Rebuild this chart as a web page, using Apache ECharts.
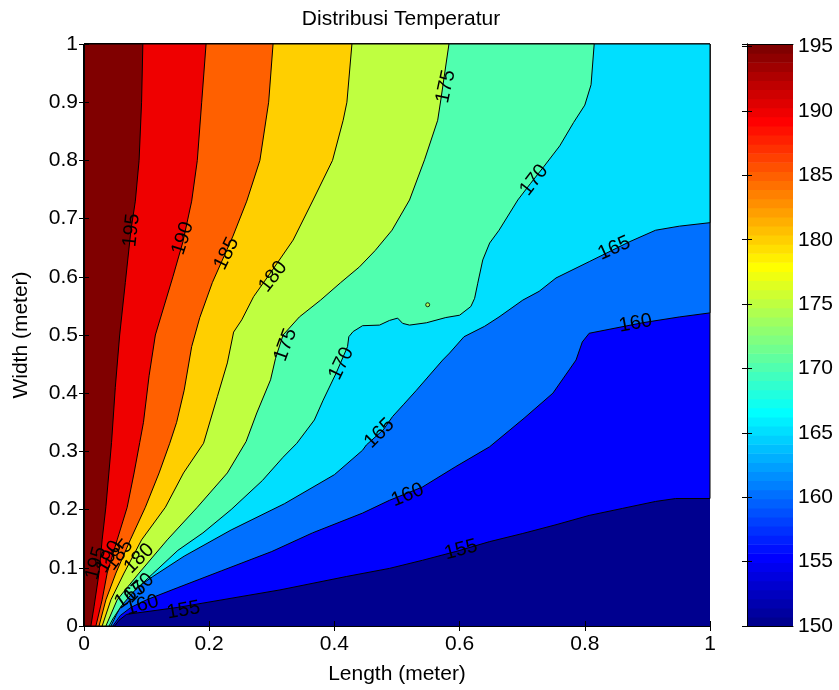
<!DOCTYPE html>
<html>
<head>
<meta charset="utf-8">
<title>Distribusi Temperatur</title>
<script src="https://cdn.jsdelivr.net/npm/echarts@6/dist/echarts.min.js"></script>
<style>
html,body{margin:0;padding:0;background:#fff;}
#chart{width:839px;height:690px;}
</style>
</head>
<body>
<div id="chart"></div>
<script>
// contour levels and colour limits of the colorbar
var levels = [150, 155, 160, 165, 170, 175, 180, 185, 190, 195];
var cLim = [150, 195.2];

// contour lines [length, width], from top/right edge down to the bottom edge
var c195 = [[0.094,1],[0.092,0.9],[0.088,0.8],[0.082,0.73],[0.075,0.68],[0.066,0.59],[0.057,0.5],[0.050,0.41],[0.044,0.315],[0.035,0.205],[0.029,0.148],[0.024,0.091],[0.016,0.033],[0.011,0]];
var c190 = [[0.195,1],[0.188,0.9],[0.181,0.8],[0.172,0.73],[0.158,0.66],[0.142,0.6],[0.128,0.55],[0.114,0.5],[0.104,0.43],[0.095,0.35],[0.089,0.315],[0.080,0.263],[0.069,0.204],[0.053,0.148],[0.037,0.091],[0.029,0.045],[0.019,0]];
var c185 = [[0.302,1],[0.295,0.9],[0.281,0.8],[0.260,0.73],[0.238,0.67],[0.205,0.59],[0.185,0.53],[0.172,0.48],[0.160,0.405],[0.148,0.35],[0.137,0.314],[0.120,0.263],[0.098,0.204],[0.074,0.148],[0.051,0.091],[0.035,0.045],[0.024,0]];
var c180 = [[0.428,1],[0.420,0.9],[0.414,0.869],[0.397,0.8],[0.366,0.732],[0.334,0.663],[0.300,0.61],[0.271,0.566],[0.252,0.526],[0.239,0.505],[0.229,0.452],[0.213,0.394],[0.191,0.314],[0.159,0.263],[0.130,0.204],[0.092,0.148],[0.064,0.091],[0.043,0.045],[0.029,0]];
var c175 = [[0.583,1],[0.570,0.904],[0.565,0.869],[0.544,0.801],[0.520,0.732],[0.492,0.68],[0.465,0.645],[0.440,0.617],[0.410,0.59],[0.378,0.56],[0.344,0.531],[0.318,0.5],[0.306,0.46],[0.298,0.423],[0.276,0.366],[0.259,0.317],[0.229,0.263],[0.181,0.204],[0.133,0.148],[0.088,0.091],[0.053,0.045],[0.035,0]];
var c170 = [[0.815,1],[0.810,0.93],[0.800,0.895],[0.782,0.865],[0.760,0.825],[0.735,0.79],[0.713,0.76],[0.693,0.732],[0.663,0.68],[0.648,0.658],[0.637,0.629],[0.629,0.589],[0.624,0.563],[0.618,0.549],[0.600,0.534],[0.578,0.530],[0.547,0.521],[0.520,0.517],[0.509,0.520],[0.501,0.529],[0.488,0.525],[0.472,0.517],[0.445,0.516],[0.430,0.506],[0.423,0.497],[0.421,0.48],[0.403,0.435],[0.382,0.388],[0.368,0.354],[0.340,0.314],[0.318,0.29],[0.285,0.25],[0.235,0.2],[0.190,0.16],[0.150,0.13],[0.110,0.09],[0.080,0.06],[0.060,0.035],[0.046,0.012],[0.040,0]];
var c165 = [[1,0.693],[0.951,0.687],[0.913,0.68],[0.871,0.66],[0.807,0.626],[0.754,0.598],[0.727,0.575],[0.701,0.56],[0.663,0.531],[0.640,0.515],[0.607,0.497],[0.584,0.469],[0.573,0.457],[0.531,0.405],[0.510,0.38],[0.493,0.36],[0.478,0.337],[0.451,0.311],[0.445,0.302],[0.40,0.26],[0.32,0.21],[0.235,0.165],[0.16,0.12],[0.11,0.085],[0.07,0.055],[0.052,0.02],[0.043,0]];
var c160 = [[1,0.538],[0.951,0.531],[0.892,0.521],[0.807,0.503],[0.796,0.488],[0.786,0.457],[0.775,0.44],[0.749,0.40],[0.703,0.357],[0.648,0.308],[0.594,0.274],[0.541,0.239],[0.488,0.216],[0.445,0.194],[0.365,0.16],[0.30,0.128],[0.22,0.095],[0.15,0.066],[0.10,0.045],[0.075,0.032],[0.058,0.018],[0.046,0]];
var c155 = [[1,0.219],[0.945,0.219],[0.913,0.214],[0.860,0.202],[0.807,0.19],[0.754,0.174],[0.701,0.159],[0.648,0.145],[0.594,0.128],[0.541,0.113],[0.488,0.099],[0.419,0.085],[0.313,0.062],[0.15,0.032],[0.068,0.02],[0.056,0.01],[0.049,0]];
var contours = {155: c155, 160: c160, 165: c165, 170: c170, 175: c175, 180: c180, 185: c185, 190: c190, 195: c195};

// tiny closed 175 contour
var spot175 = [[0.549, 0.552]];

// clabel positions: [length, width, level, angle in degrees]
var contourLabels = [
  [0.076,0.680,195,84],[0.158,0.666,190,72],[0.228,0.640,185,64],[0.302,0.600,180,52],
  [0.578,0.927,175,78],[0.322,0.483,175,70],
  [0.719,0.766,170,52],[0.411,0.451,170,64],
  [0.847,0.649,165,24],[0.472,0.331,165,45],
  [0.881,0.520,160,10],[0.517,0.225,160,22],
  [0.602,0.131,155,15],
  [0.019,0.108,195,75],[0.040,0.119,190,60],[0.056,0.122,185,52],[0.088,0.116,180,45],
  [0.088,0.065,170,45],[0.074,0.053,165,35],[0.093,0.036,160,15],[0.159,0.027,155,10]
];

var fontFam = '"Liberation Sans", Arial, Helvetica, sans-serif';

// MATLAB jet(64)
function jet (k) {
  var i = k + 1, r, g, b
  if (i <= 8) { r = 0; g = 0; b = 0.5 + i * 0.0625 }
  else if (i <= 24) { r = 0; g = (i - 8) * 0.0625; b = 1 }
  else if (i <= 40) { r = (i - 24) * 0.0625; g = 1; b = 1 - (i - 24) * 0.0625 }
  else if (i <= 56) { r = 1; g = 1 - (i - 40) * 0.0625; b = 0 }
  else { r = 1 - (i - 56) * 0.0625; g = 0; b = 0 }
  return 'rgb(' + Math.round(r * 255) + ',' + Math.round(g * 255) + ',' + Math.round(b * 255) + ')'
}
function levelColor (v) {
  var k = Math.floor((v - cLim[0]) / (cLim[1] - cLim[0]) * 64)
  return jet(Math.max(0, Math.min(63, k)))
}

var cmapBins = []
for (var k = 0; k < 64; k++) cmapBins.push(k)

var chart = echarts.init(document.getElementById('chart'))

var tickStyle = {show: true, inside: true, length: 5, lineStyle: {color: '#000', width: 1}}
var lineStyle = {show: true, lineStyle: {color: '#000', width: 1}}
var labelStyle = {color: '#000', fontSize: 21, fontFamily: fontFam}

var option = {
  backgroundColor: '#fff',
  animation: false,
  title: {
    text: 'Distribusi Temperatur',
    left: 396,
    top: 4,
    textAlign: 'center',
    textStyle: {color: '#000', fontSize: 21, fontWeight: 'normal', fontFamily: fontFam}
  },
  grid: [
    {left: 84, right: 129, top: 44, bottom: 64},
    {left: 747, right: 46, top: 44, bottom: 64}
  ],
  xAxis: [
    {
      type: 'value', gridIndex: 0, min: 0, max: 1, interval: 0.2, position: 'bottom', z: 10,
      axisLine: lineStyle, axisTick: tickStyle, splitLine: {show: false},
      axisLabel: Object.assign({margin: 8}, labelStyle),
      name: 'Length (meter)', nameLocation: 'middle', nameGap: 38,
      nameTextStyle: {color: '#000', fontSize: 21, fontFamily: fontFam}
    },
    {
      type: 'value', gridIndex: 0, min: 0, max: 1, interval: 0.2, position: 'top', z: 10,
      axisLine: lineStyle, axisTick: tickStyle, splitLine: {show: false}, axisLabel: {show: false}
    },
    {
      type: 'value', gridIndex: 1, min: 0, max: 1, position: 'bottom', z: 10,
      axisLine: lineStyle, axisTick: {show: false}, splitLine: {show: false}, axisLabel: {show: false}
    },
    {
      type: 'value', gridIndex: 1, min: 0, max: 1, position: 'top', z: 10,
      axisLine: lineStyle, axisTick: {show: false}, splitLine: {show: false}, axisLabel: {show: false}
    }
  ],
  yAxis: [
    {
      type: 'value', gridIndex: 0, min: 0, max: 1, interval: 0.1, position: 'left', z: 10,
      axisLine: lineStyle, axisTick: tickStyle, splitLine: {show: false},
      axisLabel: Object.assign({margin: 6}, labelStyle),
      name: 'Width (meter)', nameLocation: 'middle', nameGap: 52, nameRotate: 90,
      nameTextStyle: {color: '#000', fontSize: 21, fontFamily: fontFam}
    },
    {
      type: 'value', gridIndex: 0, min: 0, max: 1, interval: 0.1, position: 'right', z: 10,
      axisLine: lineStyle, axisTick: tickStyle, splitLine: {show: false}, axisLabel: {show: false}
    },
    {
      type: 'value', gridIndex: 1, min: cLim[0], max: cLim[1], interval: 5, position: 'left', z: 10,
      axisLine: lineStyle, axisTick: tickStyle, splitLine: {show: false}, axisLabel: {show: false}
    },
    {
      type: 'value', gridIndex: 1, min: cLim[0], max: cLim[1], interval: 5, position: 'right', z: 10,
      axisLine: lineStyle, axisTick: tickStyle, splitLine: {show: false},
      axisLabel: Object.assign({
        margin: 5,
        formatter: function (v) { return v % 5 === 0 ? String(v) : '' }
      }, labelStyle)
    }
  ],
  series: [
    {
      // filled regions T >= level, lowest first
      type: 'custom',
      xAxisIndex: 0,
      yAxisIndex: 0,
      z: 1,
      silent: true,
      data: levels,
      renderItem: function (params, api) {
        var lv = levels[params.dataIndex]
        var pts = contours[lv]
        var poly
        if (!pts) {
          poly = [[0, 0], [0, 1], [1, 1], [1, 0]]
        } else {
          poly = (pts[0][0] === 1 ? [[0, 0], [0, 1], [1, 1]] : [[0, 0], [0, 1]]).concat(pts)
        }
        return {
          type: 'polygon',
          shape: {points: poly.map(function (p) { return api.coord(p) })},
          style: {fill: levelColor(lv), stroke: pts ? '#000' : null, lineWidth: 1}
        }
      }
    },
    {
      type: 'scatter',
      xAxisIndex: 0,
      yAxisIndex: 0,
      z: 3,
      silent: true,
      symbolSize: 4,
      data: spot175,
      itemStyle: {color: levelColor(175), borderColor: '#000', borderWidth: 1}
    },
    {
      // contour labels (clabel)
      type: 'custom',
      xAxisIndex: 0,
      yAxisIndex: 0,
      z: 4,
      silent: true,
      data: contourLabels,
      renderItem: function (params, api) {
        var d = contourLabels[params.dataIndex]
        var p = api.coord([d[0], d[1]])
        return {
          type: 'text',
          x: p[0],
          y: p[1],
          rotation: d[3] * Math.PI / 180,
          style: {
            text: String(d[2]),
            fill: '#000',
            fontSize: 20,
            fontFamily: fontFam,
            align: 'center',
            verticalAlign: 'middle'
          }
        }
      }
    },
    {
      // colorbar
      type: 'custom',
      xAxisIndex: 2,
      yAxisIndex: 3,
      z: 1,
      silent: true,
      data: cmapBins,
      renderItem: function (params, api) {
        var k = cmapBins[params.dataIndex]
        var step = (cLim[1] - cLim[0]) / 64
        var p1 = api.coord([0, cLim[0] + (k + 1) * step])
        var p2 = api.coord([1, cLim[0] + k * step])
        return {
          type: 'rect',
          shape: {x: p1[0], y: p1[1], width: p2[0] - p1[0], height: p2[1] - p1[1] + 0.6},
          style: {fill: jet(k)}
        }
      }
    }
  ]
}

chart.setOption(option)
</script>
</body>
</html>
